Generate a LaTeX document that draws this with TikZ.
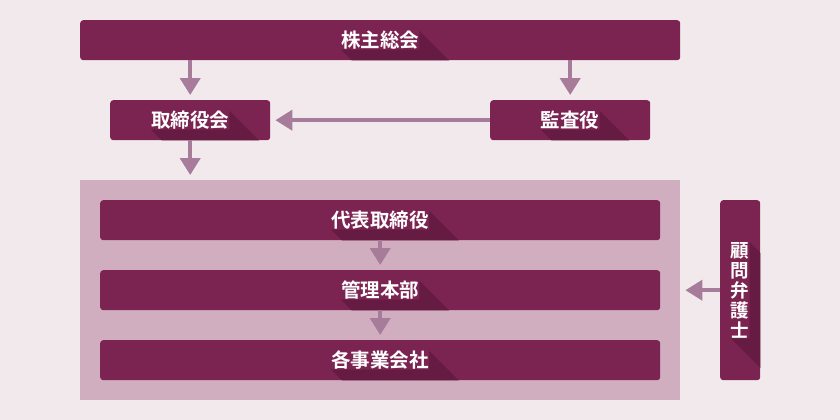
\documentclass[tikz,border=0pt]{standalone}
\usepackage{fontspec}
\newfontfamily\cjk{Noto Sans CJK JP Bold}
\usetikzlibrary{arrows.meta}
\definecolor{bgc}{HTML}{F2E9ED}
\definecolor{boxc}{HTML}{7B2451}
\definecolor{shc}{HTML}{661B42}
\definecolor{contc}{HTML}{D0AEBF}
\definecolor{arrc}{HTML}{A77C9B}
\pgfdeclarelayer{bglayer}
\pgfdeclarelayer{midlayer}
\pgfsetlayers{bglayer,midlayer,main}
\tikzset{
  boxnode/.style={fill=boxc, rounded corners=3pt, inner sep=0pt, draw=none, anchor=north west},
  lbl/.style={text=white, font=\cjk\fontsize{19.5}{19.5}\selectfont, inner sep=0pt},
  vlbl/.style={text=white, font=\cjk\fontsize{18.5}{20}\selectfont, inner sep=0pt, align=center},
  arr/.style={draw=arrc, line width=4pt, -{Triangle[width=20pt,length=17pt]}, shorten >=5pt},
  shadowfill/.style={fill=shc}
}
\newcommand\mkshadow[2]{%
  \begin{pgfonlayer}{midlayer}
  \begin{scope}
  \clip[rounded corners=3pt] (#1.south west) rectangle (#1.north east);
  \fill[shadowfill] (#2.south west) -- ([shift={(300,300)}]#2.south west) -- ([shift={(300,300)}]#2.north east) -- (#2.north east) -- (#2.south east) -- cycle;
  \end{scope}
  \end{pgfonlayer}}
\begin{document}
\begin{tikzpicture}[x=1pt,y=-1pt]
\begin{pgfonlayer}{bglayer}
\fill[bgc] (0,0) rectangle (840,420);
\node[fill=contc, inner sep=0pt, anchor=north west, minimum width=600pt, minimum height=220pt] (cont) at (80,180) {};
\node[boxnode, minimum width=600pt, minimum height=40pt] (kabu) at (80,20) {};
\node[boxnode, minimum width=160pt, minimum height=40pt] (tori) at (110,100) {};
\node[boxnode, minimum width=160pt, minimum height=40pt] (kansa) at (490,100) {};
\node[boxnode, minimum width=560pt, minimum height=40pt] (daihyo) at (100,200) {};
\node[boxnode, minimum width=560pt, minimum height=40pt] (kanri) at (100,270) {};
\node[boxnode, minimum width=560pt, minimum height=40pt] (kaku) at (100,340) {};
\node[boxnode, minimum width=40pt, minimum height=180pt] (komon) at (720,200) {};
\end{pgfonlayer}
\node[lbl] (kabu-t) at (kabu) {株主総会};
\node[lbl] (tori-t) at (tori) {取締役会};
\node[lbl] (kansa-t) at (kansa) {監査役};
\node[lbl] (daihyo-t) at (daihyo) {代表取締役};
\node[lbl] (kanri-t) at (kanri) {管理本部};
\node[lbl] (kaku-t) at (kaku) {各事業会社};
\node[vlbl] (komon-t) at (komon) {顧\\問\\弁\\護\\士};
\mkshadow{kabu}{kabu-t}
\mkshadow{tori}{tori-t}
\mkshadow{kansa}{kansa-t}
\mkshadow{daihyo}{daihyo-t}
\mkshadow{kanri}{kanri-t}
\mkshadow{kaku}{kaku-t}
\mkshadow{komon}{komon-t}
\draw[arr] (kabu.south -| tori.north) -- (tori.north);
\draw[arr] (kabu.south -| kansa.north) -- (kansa.north);
\draw[arr] (kansa.west) -- (tori.east);
\draw[arr] (tori.south) -- (cont.north -| tori.south);
\draw[arr] (daihyo.south) -- (kanri.north);
\draw[arr] (kanri.south) -- (kaku.north);
\draw[arr] (komon.west) -- (cont.east |- komon.west);
\end{tikzpicture}
\end{document}
